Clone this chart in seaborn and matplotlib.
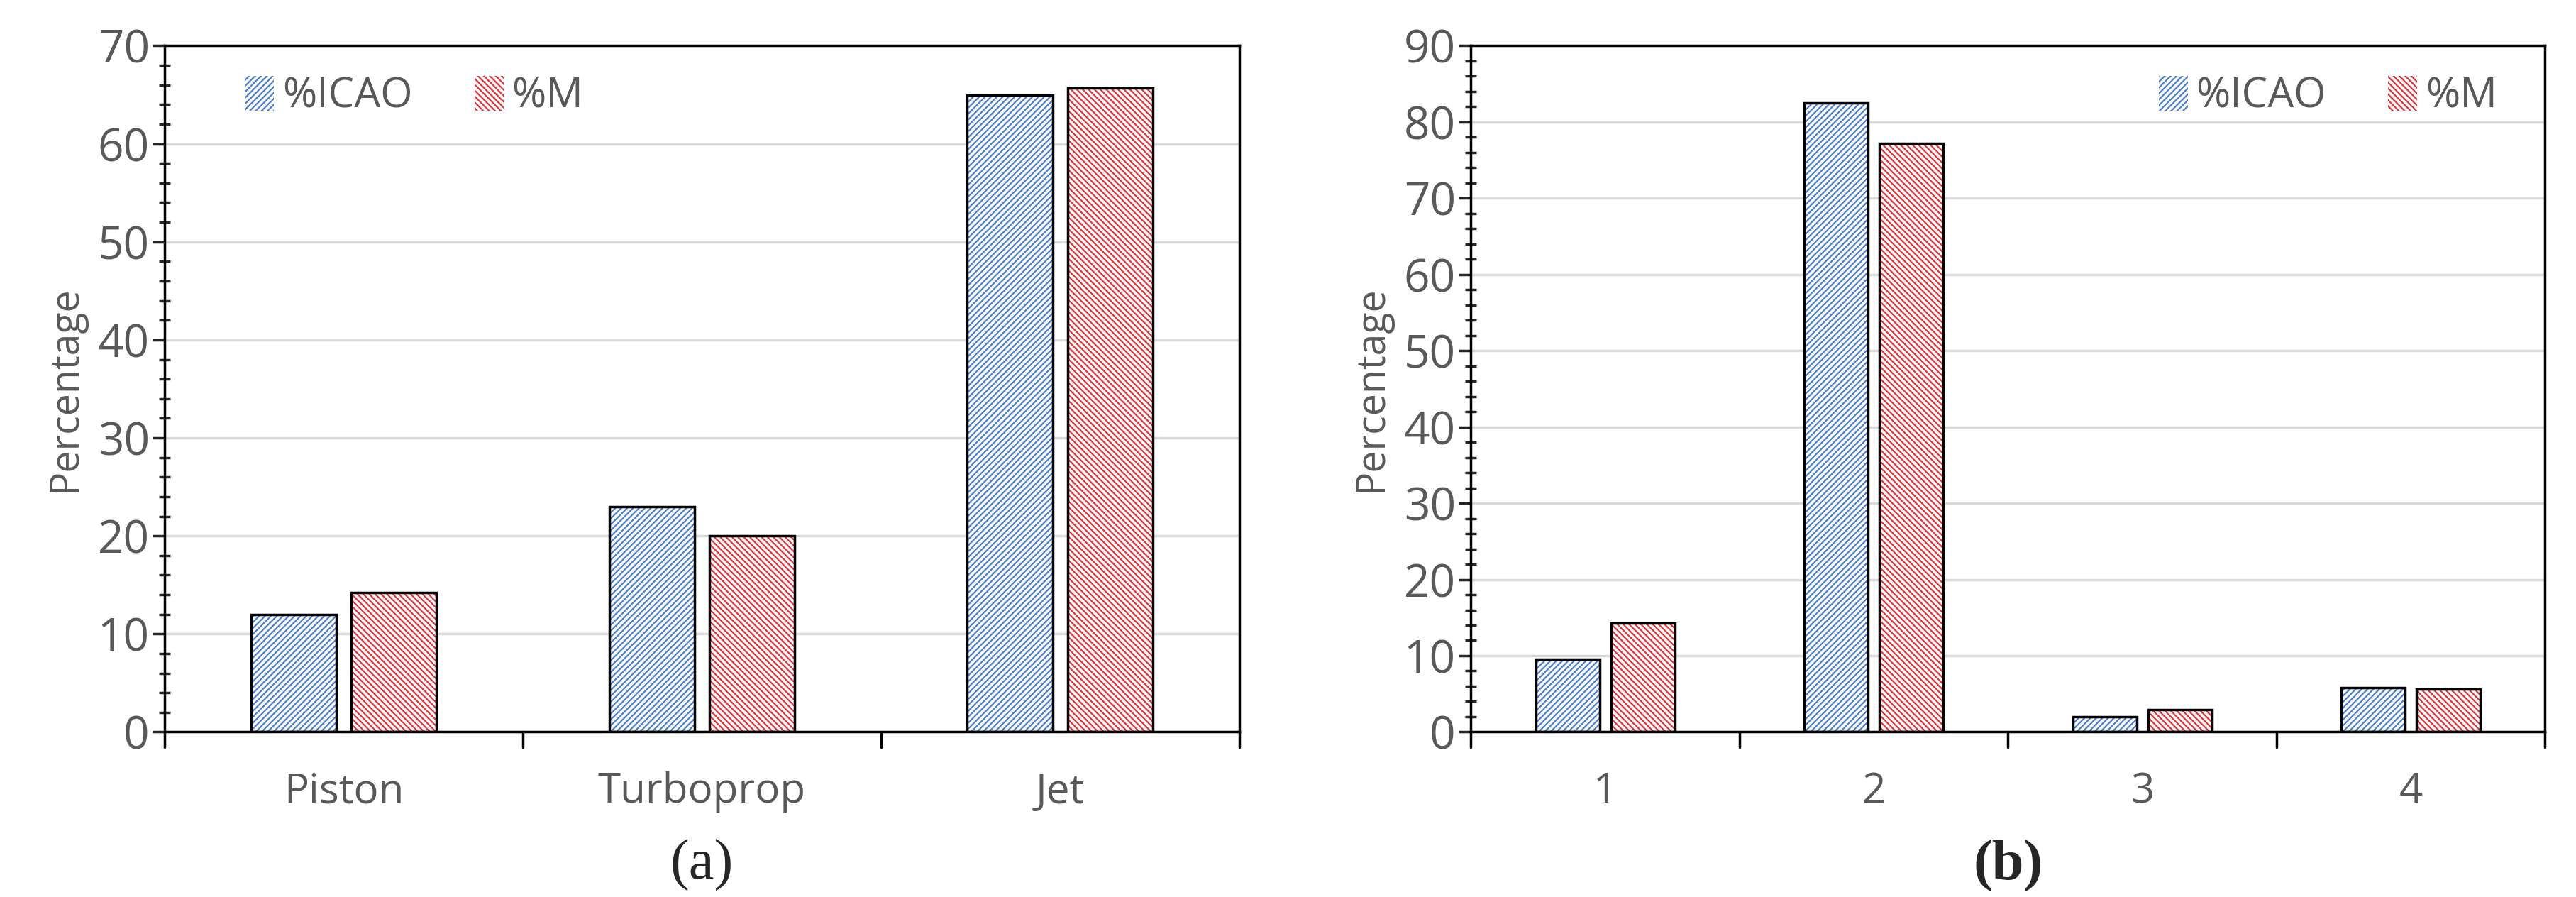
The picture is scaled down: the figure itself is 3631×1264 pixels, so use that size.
import matplotlib
matplotlib.use("Agg")
import matplotlib.pyplot as plt
import seaborn as sns
import pandas as pd
from matplotlib.ticker import MultipleLocator
from matplotlib.patches import Patch

# data
engine_types = ["Piston", "Turboprop", "Jet"]
icao_type = [12.0, 23.0, 65.0]
m_type = [14.2, 20.0, 65.7]

engine_counts = ["1", "2", "3", "4"]
icao_count = [9.5, 82.5, 2.0, 5.8]
m_count = [14.3, 77.2, 2.9, 5.6]

series = ["%ICAO", "%M"]
hatch_colors = {"%ICAO": "#4a7fd4", "%M": "#e8333a"}
hatches = {"%ICAO": "////", "%M": "\\\\\\\\"}

sns.set_style("white")
plt.rcParams["font.family"] = ["Open Sans", "DejaVu Sans"]
plt.rcParams["hatch.linewidth"] = 1.6


def make_df(cats, a, b):
    return pd.DataFrame({
        "cat": cats * 2,
        "val": a + b,
        "series": [series[0]] * len(cats) + [series[1]] * len(cats),
    })


def draw(ax, df, ymax, legend_loc, bbox):
    # hatched fill, coloured hatch lines
    sns.barplot(data=df, x="cat", y="val", hue="series", hue_order=series,
                palette=["white", "white"], width=0.56, gap=0.15,
                legend=False, ax=ax)
    for cont, s in zip(ax.containers, series):
        for p in cont:
            p.set_hatch(hatches[s])
            p.set_edgecolor(hatch_colors[s])
            p.set_linewidth(0)
    # black outlines on top
    sns.barplot(data=df, x="cat", y="val", hue="series", hue_order=series,
                fill=False, color="black", width=0.56, gap=0.15,
                legend=False, ax=ax)
    for cont in ax.containers[len(series):]:
        for p in cont:
            p.set_edgecolor("black")
            p.set_linewidth(2.5)

    ax.set_ylim(0, ymax)
    ax.set_xlim(-0.5, len(df["cat"].unique()) - 0.5)
    ax.yaxis.set_major_locator(MultipleLocator(10))
    ax.yaxis.set_minor_locator(MultipleLocator(2))
    ax.grid(axis="y", which="major", color="#d9d9d9", linewidth=2.5)
    ax.set_axisbelow(True)
    ax.set_xlabel("")
    ax.set_ylabel("Percentage", fontsize=40, color="#595959", labelpad=12)
    ax.tick_params(axis="y", which="major", left=True, direction="out", length=12,
                   width=2.5, labelsize=46, labelcolor="#595959")
    ax.tick_params(axis="y", which="minor", left=True, direction="inout", length=12,
                   width=2.5)
    ax.tick_params(axis="x", length=0, labelsize=42, labelcolor="#595959", pad=40)
    # category boundary ticks
    n = len(df["cat"].unique())
    for i in range(n + 1):
        ax.plot([i - 0.5, i - 0.5], [0, -ymax * 0.022], color="black", lw=2.5,
                clip_on=False)
    for sp in ax.spines.values():
        sp.set_color("black")
        sp.set_linewidth(2.5)

    handles = [Patch(facecolor="white", edgecolor="black", hatch=hatches[s], label=s)
               for s in series]
    leg = ax.legend(handles=handles, loc=legend_loc, bbox_to_anchor=bbox, ncol=2,
                    frameon=False, fontsize=42, handlelength=0.7, handleheight=0.9,
                    columnspacing=1.5, handletextpad=0.2)
    for h, s in zip(leg.legend_handles, series):
        h.set_edgecolor(hatch_colors[s])
        h.set_linewidth(0)
    for t in leg.get_texts():
        t.set_color("#595959")


fig = plt.figure(figsize=(36.31, 12.64), dpi=100)
ax1 = fig.add_axes([0.064, 0.184, 0.417, 0.765])
ax2 = fig.add_axes([0.571, 0.184, 0.417, 0.765])

draw(ax1, make_df(engine_types, icao_type, m_type), 70, "upper left", (0.04, 1.01))
draw(ax2, make_df(engine_counts, icao_count, m_count), 90, "upper right", (0.99, 1.01))

fig.text(0.2725, 0.02, "(a)", fontsize=58, ha="center", family="Liberation Serif")
fig.text(0.7795, 0.02, "(b)", fontsize=58, ha="center", family="Liberation Serif",
         fontweight="bold")
fig.savefig("out.png", dpi=100)
